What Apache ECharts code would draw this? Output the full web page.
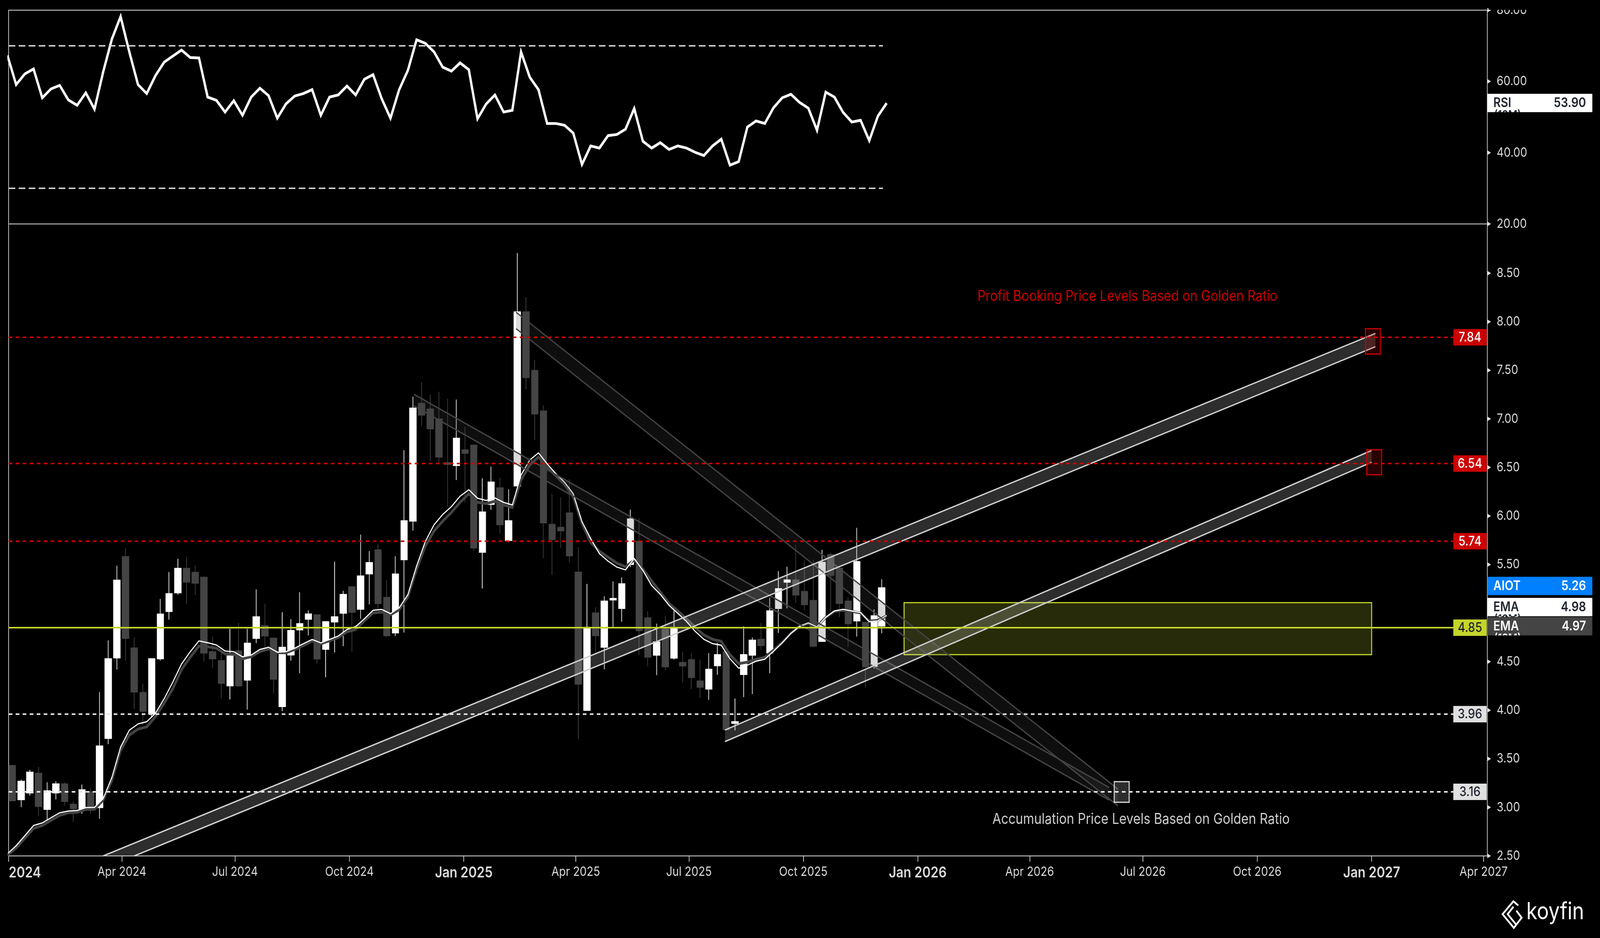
<!DOCTYPE html>
<html><head><meta charset="utf-8">
<style>html,body{margin:0;padding:0;background:#000;overflow:hidden}#c{width:4799px;height:2400px;transform-origin:0 0}</style>
<script src="https://cdn.jsdelivr.net/npm/echarts@6/dist/echarts.min.js"></script>
</head><body><div id="c"></div>
<script>
const weekDates=["2024-01-04","2024-01-11","2024-01-18","2024-01-25","2024-02-01","2024-02-08","2024-02-15","2024-02-22","2024-02-29","2024-03-07","2024-03-14","2024-03-21","2024-03-28","2024-04-04","2024-04-11","2024-04-18","2024-04-25","2024-05-02","2024-05-09","2024-05-16","2024-05-23","2024-05-30","2024-06-06","2024-06-13","2024-06-20","2024-06-27","2024-07-04","2024-07-11","2024-07-18","2024-07-25","2024-08-01","2024-08-08","2024-08-15","2024-08-22","2024-08-29","2024-09-05","2024-09-12","2024-09-19","2024-09-26","2024-10-03","2024-10-10","2024-10-17","2024-10-24","2024-10-31","2024-11-07","2024-11-14","2024-11-21","2024-11-28","2024-12-05","2024-12-12","2024-12-19","2024-12-26","2025-01-02","2025-01-09","2025-01-16","2025-01-23","2025-01-30","2025-02-06","2025-02-13","2025-02-20","2025-02-27","2025-03-06","2025-03-13","2025-03-20","2025-03-27","2025-04-03","2025-04-10","2025-04-17","2025-04-24","2025-05-01","2025-05-08","2025-05-15","2025-05-22","2025-05-29","2025-06-05","2025-06-12","2025-06-19","2025-06-26","2025-07-03","2025-07-10","2025-07-17","2025-07-24","2025-07-31","2025-08-07","2025-08-14","2025-08-21","2025-08-28","2025-09-04","2025-09-11","2025-09-18","2025-09-25","2025-10-02","2025-10-09","2025-10-16","2025-10-23","2025-10-30","2025-11-06","2025-11-13","2025-11-20","2025-11-27","2025-12-03"];
const candleOpen=[3.432,3.078,3.148,3.351,2.979,3.148,3.242,3.032,2.986,3.161,2.997,3.709,4.538,5.582,4.642,4.183,3.961,4.529,5.016,5.208,5.462,5.421,5.370,4.603,4.511,4.250,4.612,4.310,4.739,4.871,4.742,4.037,4.568,4.827,4.937,4.983,4.627,4.908,4.998,5.272,5.039,5.403,5.652,5.162,4.796,5.549,5.947,7.161,7.102,7.000,6.550,6.519,6.681,6.730,5.626,6.119,6.291,5.747,6.309,8.103,7.500,7.081,5.914,5.883,6.032,5.423,3.998,5.002,4.648,5.135,5.047,5.500,5.741,4.952,4.566,4.833,4.536,4.493,4.521,4.302,4.217,4.458,4.603,3.864,4.367,4.566,4.731,4.591,5.047,5.318,5.342,5.223,5.131,4.708,5.603,5.464,5.125,4.920,4.905,4.451,4.866];
const candleClose=[3.067,3.270,3.363,3.009,3.171,3.242,3.060,2.986,3.182,2.997,3.633,4.531,5.340,4.739,4.187,3.989,4.531,4.991,5.201,5.462,5.319,5.308,4.589,4.529,4.277,4.559,4.250,4.691,4.963,4.765,4.319,4.649,4.822,4.892,4.992,4.528,4.912,4.963,5.193,5.008,5.383,5.521,5.098,4.767,5.403,5.952,7.112,7.038,6.897,6.607,6.530,6.802,6.645,5.670,6.042,6.350,5.909,5.952,8.103,7.425,7.050,5.929,5.757,5.847,5.590,4.269,4.855,4.768,5.125,5.152,5.303,5.971,4.819,4.546,4.704,4.447,4.844,4.456,4.336,4.236,4.423,4.573,3.798,3.883,4.573,4.722,4.665,5.024,5.252,5.342,5.186,5.086,4.659,5.523,5.388,5.100,4.889,5.531,4.447,4.973,5.262];
const candleLow=[3.067,3.002,3.122,2.912,2.870,3.081,3.014,2.852,2.935,2.933,2.882,3.651,4.420,4.511,4.012,3.845,3.922,4.511,4.933,5.190,5.097,5.185,4.501,4.432,4.120,4.111,4.240,4.007,4.691,4.649,4.173,3.991,4.511,4.381,4.771,4.481,4.340,4.595,4.660,4.605,4.941,5.090,5.042,4.751,4.764,4.800,5.850,6.927,6.568,6.550,6.101,6.370,6.140,5.639,5.254,6.063,5.819,5.729,6.309,7.307,6.781,5.567,5.393,5.670,5.521,3.704,3.998,4.603,4.423,4.858,4.911,5.474,4.566,4.453,4.361,4.412,4.521,4.287,4.217,4.127,4.107,4.365,3.798,3.792,4.135,4.166,4.622,4.382,4.796,5.049,5.106,5.028,4.648,4.708,5.018,4.961,4.653,4.759,4.234,4.431,4.792];
const candleHigh=[3.432,3.286,3.386,3.418,3.259,3.268,3.259,3.060,3.235,3.199,4.187,4.719,5.488,5.666,4.749,4.275,4.531,5.146,5.423,5.559,5.578,5.488,5.377,4.760,4.592,4.839,4.899,4.839,5.243,5.097,4.749,5.010,4.938,5.215,5.029,4.983,4.913,5.529,5.229,5.280,5.809,5.639,5.708,5.339,5.585,6.678,7.228,7.379,7.248,7.279,7.207,7.199,6.917,6.730,6.388,6.509,6.394,6.276,8.708,8.251,7.607,7.138,6.229,6.191,6.378,5.680,5.301,5.061,5.174,5.326,5.367,6.065,5.977,5.018,4.891,4.969,5.053,4.603,4.589,4.521,4.589,4.694,4.603,4.121,4.864,4.749,4.899,5.158,5.433,5.478,5.700,5.542,5.548,5.652,5.620,5.490,5.162,5.878,4.905,5.039,5.349];
const lineDates=["2023-12-31","2024-01-07","2024-01-14","2024-01-21","2024-01-28","2024-02-04","2024-02-11","2024-02-18","2024-02-25","2024-03-03","2024-03-10","2024-03-17","2024-03-24","2024-03-31","2024-04-07","2024-04-14","2024-04-21","2024-04-28","2024-05-05","2024-05-12","2024-05-19","2024-05-26","2024-06-02","2024-06-09","2024-06-16","2024-06-23","2024-06-30","2024-07-07","2024-07-14","2024-07-21","2024-07-28","2024-08-04","2024-08-11","2024-08-18","2024-08-25","2024-09-01","2024-09-08","2024-09-15","2024-09-22","2024-09-29","2024-10-06","2024-10-13","2024-10-20","2024-10-27","2024-11-03","2024-11-10","2024-11-17","2024-11-24","2024-12-01","2024-12-08","2024-12-15","2024-12-22","2024-12-29","2025-01-05","2025-01-12","2025-01-19","2025-01-26","2025-02-02","2025-02-09","2025-02-16","2025-02-23","2025-03-02","2025-03-09","2025-03-16","2025-03-23","2025-03-30","2025-04-06","2025-04-13","2025-04-20","2025-04-27","2025-05-04","2025-05-11","2025-05-18","2025-05-25","2025-06-01","2025-06-08","2025-06-15","2025-06-22","2025-06-29","2025-07-06","2025-07-13","2025-07-20","2025-07-27","2025-08-03","2025-08-10","2025-08-17","2025-08-24","2025-08-31","2025-09-07","2025-09-14","2025-09-21","2025-09-28","2025-10-05","2025-10-12","2025-10-19","2025-10-26","2025-11-02","2025-11-09","2025-11-16","2025-11-23","2025-11-30","2025-12-07"];
const emaFast=[2.522,2.605,2.709,2.813,2.840,2.893,2.944,2.963,2.968,2.998,3.000,3.090,3.309,3.621,3.794,3.859,3.882,3.968,4.118,4.291,4.476,4.603,4.714,4.695,4.672,4.610,4.603,4.550,4.568,4.626,4.649,4.598,4.603,4.638,4.686,4.729,4.693,4.729,4.764,4.831,4.861,4.941,5.029,5.038,4.995,5.055,5.190,5.485,5.737,5.909,6.016,6.096,6.204,6.270,6.183,6.160,6.186,6.140,6.114,6.422,6.576,6.650,6.537,6.435,6.348,6.229,5.942,5.767,5.613,5.535,5.474,5.445,5.562,5.439,5.285,5.193,5.080,4.998,4.915,4.813,4.731,4.686,4.669,4.530,4.433,4.464,4.505,4.525,4.607,4.694,4.792,4.864,4.899,4.858,4.956,5.022,5.039,5.022,5.006,4.911,4.920,4.977];
const emaSlow=[2.505,2.582,2.681,2.783,2.813,2.866,2.917,2.944,2.949,2.979,2.981,3.074,3.275,3.586,3.744,3.806,3.829,3.933,4.072,4.222,4.418,4.545,4.661,4.654,4.638,4.580,4.575,4.529,4.552,4.603,4.631,4.592,4.592,4.626,4.666,4.713,4.684,4.716,4.747,4.807,4.831,4.921,5.002,5.011,4.982,5.035,5.165,5.447,5.690,5.844,5.947,6.037,6.140,6.229,6.140,6.127,6.152,6.114,6.088,6.370,6.524,6.607,6.506,6.414,6.322,6.199,5.921,5.726,5.638,5.576,5.515,5.476,5.548,5.455,5.332,5.219,5.100,5.024,4.942,4.854,4.776,4.731,4.710,4.573,4.480,4.495,4.525,4.546,4.618,4.700,4.792,4.864,4.895,4.864,4.956,5.018,5.028,5.018,5.002,4.919,4.926,4.973];
const rsiValues=[67.3,59.1,62.1,63.5,55.4,57.9,58.9,54.8,53.3,56.8,52.2,62.7,71.9,78.2,68.3,59.1,56.6,61.6,65.4,67.1,68.8,66.7,66.6,55.6,54.7,51.4,54.6,50.5,55.6,58.1,56.0,49.7,53.7,55.9,56.6,57.7,50.5,55.6,56.2,58.7,56.2,60.6,61.9,55.1,49.7,57.7,63.1,71.7,70.7,68.3,64.0,62.9,65.2,63.3,49.5,53.7,56.2,51.4,51.9,68.3,61.2,57.7,48.2,48.2,47.7,45.5,36.7,41.9,41.3,44.8,45.1,46.6,52.4,43.2,41.3,42.8,40.9,41.9,41.3,40.1,39.2,41.9,43.8,36.5,37.5,47.2,48.9,48.2,52.6,55.4,56.4,54.1,52.5,46.3,57.0,55.6,51.3,48.6,49.1,43.4,50.3,53.9];
const rsiBands=[70,30];
const rsiBandEnd="2025-12-04";
const rsiTicks=[20,40,60,80];
const priceTicks=[2.5,3,3.5,4,4.5,5,5.5,6,6.5,7,7.5,8,8.5];
const timeTickDates=["2024-01-01","2024-04-01","2024-07-01","2024-10-01","2025-01-01","2025-04-01","2025-07-01","2025-10-01","2026-01-01","2026-04-01","2026-07-01","2026-10-01","2027-01-01","2027-04-01"];
const timeTickLabels=["2024","Apr 2024","Jul 2024","Oct 2024","Jan 2025","Apr 2025","Jul 2025","Oct 2025","Jan 2026","Apr 2026","Jul 2026","Oct 2026","Jan 2027","Apr 2027"];
const axisStart="2024-01-01";
const axisEnd="2027-04-04";
const redLevels=[7.84,6.54,5.74];
const whiteLevels=[3.96,3.16];
const limeLevels=[4.85];
const upChannelA=[["2024-03-17",2.5],["2027-01-04",7.88],["2027-01-04",7.743],["2024-04-11",2.5]];
const upChannelB=[["2025-07-30",3.796],["2027-01-01",6.675],["2027-01-01",6.554],["2025-07-30",3.677]];
const downChannelA=[["2025-02-12",8.098],["2026-06-11",3.188],["2026-06-11",3.015],["2025-02-12",7.929]];
const downChannelB=[["2024-11-22",7.252],["2026-06-04",3.204],["2026-06-04",3.075],["2024-11-22",7.132]];
const profitBoxA=[["2026-12-27",7.929],["2027-01-08",7.667]];
const profitBoxB=[["2026-12-28",6.682],["2027-01-09",6.425]];
const accumulationBox=[["2026-06-08",3.265],["2026-06-20",3.052]];
const limeZone=[["2025-12-21",5.108],["2027-01-01",4.572]];
const noteTexts=["Profit Booking Price Levels Based on Golden Ratio","Accumulation Price Levels Based on Golden Ratio"];
const noteAnchors=[["2026-02-18",8.259],["2026-03-02",2.874]];
const priceTagNames=["AIOT","EMA","EMA"];
const priceTagValues=[5.26,4.98,4.97];
const rsiTagNames=["RSI"];
const rsiTagValues=[53.90];

const t=s=>Date.parse(s+"T00:00:00Z");
const xMin=t(axisStart), xMax=t(axisEnd);
const tickMs=timeTickDates.map(t);
const FONT="Inter, 'Noto Sans', sans-serif";
const LIGHT="#dcdcdc", RED="#cc0000", LIME="#c4d52b", INK="#1e222d";
const nums=a=>a.map(r=>[t(r[0]),r[1]]);
const txt=(text,x,y,fill,font,align,va)=>({type:'text',style:{text,x,y,fill,font,align:align||'left',verticalAlign:va||'middle',textAlign:align||'left',textVerticalAlign:va||'middle'}});

function once(z,grid,rows,draw){return{type:'custom',xAxisIndex:grid,yAxisIndex:grid,z,silent:true,encode:{x:0,y:1},data:rows,
  renderItem:(p,api)=>p.dataIndex===0?{type:'group',children:draw(p,api)}:null}}
function channel(points,fill,stroke,z){const pts=nums(points);
  return once(z,0,pts,(p,api)=>{const c=pts.map(q=>api.coord(q));
    return[{type:'polygon',shape:{points:c},style:{fill,stroke:null}},
      {type:'line',shape:{x1:c[0][0],y1:c[0][1],x2:c[1][0],y2:c[1][1]},style:{stroke,lineWidth:3.5,fill:null}},
      {type:'line',shape:{x1:c[3][0],y1:c[3][1],x2:c[2][0],y2:c[2][1]},style:{stroke,lineWidth:3.5,fill:null}}]})}
function box(corners,fill,stroke,lw,z){const pts=nums(corners);
  return once(z,0,pts,(p,api)=>{const a=api.coord(pts[0]),b=api.coord(pts[1]);
    return[{type:'rect',shape:{x:a[0],y:a[1],width:b[0]-a[0],height:b[1]-a[1]},style:{fill,stroke,lineWidth:lw}}]})}
function levels(vals,color,dash,bg,fg){const rows=vals.map(v=>[xMax,v]);
  return{type:'custom',xAxisIndex:0,yAxisIndex:0,z:8,silent:true,encode:{x:0,y:1},data:rows,
   renderItem:(p,api)=>{const c=api.coord([xMax,api.value(1)]),L=p.coordSys.x,R=p.coordSys.x+p.coordSys.width,y=c[1];
    return{type:'group',children:[
      {type:'line',shape:{x1:L,y1:y,x2:R-102,y2:y},style:{stroke:color,lineWidth:4,lineDash:dash,fill:null}},
      {type:'rect',shape:{x:R-102,y:y-21,width:100,height:42},style:{fill:bg}},
      txt(api.value(1).toFixed(2),R-52,y+1,fg,"500 34px "+FONT,'center')]}}}}
function axisTags(grid,names,vals,looks){const rows=vals.map(v=>[xMax,v]);
  return{type:'custom',xAxisIndex:grid,yAxisIndex:grid,z:12,silent:true,encode:{x:0,y:1},data:rows,
   renderItem:(p,api)=>{const i=p.dataIndex,look=looks[i],R=p.coordSys.x+p.coordSys.width,y=api.coord([xMax,api.value(1)])[1]+look.dy;
    const rx=R,ry=y-24,w=315,h=47;const kids=[{type:'rect',shape:{x:rx,y:ry,width:w,height:h},style:{fill:look.bg}}];
    if(look.sub)kids.push({type:'text',clipPath:{type:'rect',shape:{x:rx,y:ry,width:w,height:h}},style:{text:look.sub,x:R+20,y:ry+h-7,fill:look.fg,font:"600 30px "+FONT,align:'left',verticalAlign:'top',textAlign:'left',textVerticalAlign:'top'}});
    kids.push(txt(names[i],R+18,y,look.fg,"600 34px "+FONT,'left'),txt(api.value(1).toFixed(2),R+296,y,look.fg,"600 34px "+FONT,'right'));
    return{type:'group',children:kids}}}}
function arrows(grid,vals){const rows=vals.map(v=>[xMax,v]);
  return{type:'custom',xAxisIndex:grid,yAxisIndex:grid,z:6,silent:true,encode:{x:0,y:1},data:rows,
   renderItem:(p,api)=>{const R=p.coordSys.x+p.coordSys.width,y=api.coord([xMax,api.value(1)])[1];
    return{type:'polygon',shape:{points:[[R,y-6],[R+11,y],[R,y+6]]},style:{fill:LIGHT}}}}}

const yAxisBase=(grid,min,max,vals,fmt)=>({type:'value',gridIndex:grid,position:'right',min,max,scale:true,
  axisLine:{show:false},axisTick:{show:false},splitLine:{show:false},
  axisLabel:{show:true,customValues:vals,margin:28,color:LIGHT,fontFamily:FONT,fontSize:33,formatter:fmt,showMinLabel:true,showMaxLabel:true}});

const option={
 backgroundColor:'#000',animation:false,
 grid:[
  {left:26,right:338,top:573,bottom:210,show:true,borderColor:LIGHT,borderWidth:2,backgroundColor:'transparent'},
  {left:26,right:338,top:26,height:547,show:true,borderColor:LIGHT,borderWidth:2,backgroundColor:'transparent'}],
 xAxis:[
  {type:'value',gridIndex:0,min:xMin,max:xMax,scale:true,splitLine:{show:false},
   axisLine:{show:true,lineStyle:{color:LIGHT,width:2}},
   axisTick:{show:true,customValues:tickMs,length:15,lineStyle:{color:LIGHT,width:2}},
   axisLabel:{show:true,customValues:tickMs,margin:25,alignMinLabel:'left',hideOverlap:false,showMinLabel:true,showMaxLabel:true,color:LIGHT,fontFamily:FONT,fontSize:33,
     rich:{y:{fontWeight:600,fontSize:38,color:LIGHT,fontFamily:FONT}},
     formatter:v=>{const s=timeTickLabels[tickMs.indexOf(+v)]||'';return /^(Jan|20)/.test(s)?'{y|'+s+'}':s}}},
  {type:'value',gridIndex:1,min:xMin,max:xMax,scale:true,show:false,splitLine:{show:false}}],
 yAxis:[
  yAxisBase(0,2.5,9.007,priceTicks,v=>Number(v).toFixed(2)),
  yAxisBase(1,20,80,rsiTicks,v=>Number(v).toFixed(2))],
 graphic:[
  {type:'rect',z:100,shape:{x:4465,y:0,width:334,height:25},style:{fill:'#000'}},
  {type:'polyline',z:100,shape:{points:[[4553.7,2316.7],[4539.3,2306],[4506.7,2339],[4540.5,2374],[4564,2348],[4548,2330]]},style:{stroke:'#fff',lineWidth:5,fill:null}},
  {type:'polyline',z:100,shape:{points:[[4539.3,2320],[4522,2339],[4546.8,2365]]},style:{stroke:'#fff',lineWidth:5,fill:null}},
  {type:'text',z:100,style:{text:'koyfin',x:4578,y:2334,fill:'#fff',font:"400 60px "+FONT,align:'left',verticalAlign:'middle',textAlign:'left',textVerticalAlign:'middle'}}],
 series:[
  {type:'candlestick',xAxisIndex:0,yAxisIndex:0,z:2,barWidth:20,silent:true,
   encode:{x:0,y:[1,2,3,4]},
   data:weekDates.map((d,i)=>[t(d),candleOpen[i],candleClose[i],candleLow[i],candleHigh[i]]),
   itemStyle:{color:'#ffffff',color0:'#444444',borderColor:'#ffffff',borderColor0:'#444444',borderWidth:2}},
  {type:'line',name:'EMA slow',xAxisIndex:0,yAxisIndex:0,z:3,silent:true,showSymbol:false,symbol:'none',
   data:lineDates.map((d,i)=>[t(d),emaSlow[i]]),lineStyle:{color:'#444444',width:7,join:'miter'}},
  {type:'line',name:'EMA fast',xAxisIndex:0,yAxisIndex:0,z:4,silent:true,showSymbol:false,symbol:'none',
   data:lineDates.map((d,i)=>[t(d),emaFast[i]]),lineStyle:{color:'#ffffff',width:3,join:'miter'}},
  {type:'line',name:'RSI',xAxisIndex:1,yAxisIndex:1,z:4,silent:true,showSymbol:false,symbol:'none',
   data:lineDates.map((d,i)=>[t(d),rsiValues[i]]),lineStyle:{color:'#ffffff',width:7,join:'miter',miterLimit:6}},
  box(limeZone,'rgba(196,213,43,0.2)',LIME,3,5),
  channel(downChannelB,'rgba(68,68,68,0.2)','#444444',5),
  channel(downChannelA,'rgba(68,68,68,0.2)','#444444',5),
  channel(upChannelA,'rgba(224,224,224,0.2)','#cfcfcf',6),
  channel(upChannelB,'rgba(224,224,224,0.2)','#cfcfcf',6),
  box(profitBoxA,'rgba(204,0,0,0.2)',RED,3,7),
  box(profitBoxB,'rgba(204,0,0,0.2)',RED,3,7),
  box(accumulationBox,'rgba(224,224,224,0.2)',LIGHT,3,7),
  levels(redLevels,RED,[11,10],RED,'#fff'),
  levels(whiteLevels,'#e6e6e6',[11,10],'#e0e0e0',INK),
  levels(limeLevels,LIME,null,LIME,INK),
  {type:'custom',xAxisIndex:1,yAxisIndex:1,z:5,silent:true,encode:{x:0,y:1},data:rsiBands.map(v=>[t(rsiBandEnd),v]),
   renderItem:(p,api)=>{const c=api.coord([api.value(0),api.value(1)]);
    return{type:'line',shape:{x1:p.coordSys.x,y1:c[1],x2:c[0],y2:c[1]},style:{stroke:LIGHT,lineWidth:3.5,lineDash:[20,10],fill:null}}}},
  {type:'custom',xAxisIndex:0,yAxisIndex:0,z:9,silent:true,encode:{x:0,y:1},data:nums(noteAnchors),
   renderItem:(p,api)=>{const c=api.coord([api.value(0),api.value(1)]);
    return txt(noteTexts[p.dataIndex],c[0],c[1],p.dataIndex===0?RED:'#cfcfcf',"400 38px "+FONT,'left')}},
  arrows(0,priceTicks),
  arrows(1,rsiTicks),
  axisTags(0,priceTagNames,priceTagValues,[
    {dy:-4.5,bg:'#0080ff',fg:'#ffffff'},
    {dy:-20,bg:'#ffffff',fg:INK,sub:'(12M)'},
    {dy:26.6,bg:'#444444',fg:'#ffffff',sub:'(12M)'}]),
  axisTags(1,rsiTagNames,rsiTagValues,[{dy:0,bg:'#ffffff',fg:INK,sub:'(12M)'}])
 ]};
const dom=document.getElementById('c');
if(window.innerWidth<4799)dom.style.transform='scaleX('+(window.innerWidth/4799)+')';
const chart=echarts.init(dom,null,{renderer:'canvas',devicePixelRatio:1,width:4799,height:2400});
chart.setOption(option);
</script></body></html>
